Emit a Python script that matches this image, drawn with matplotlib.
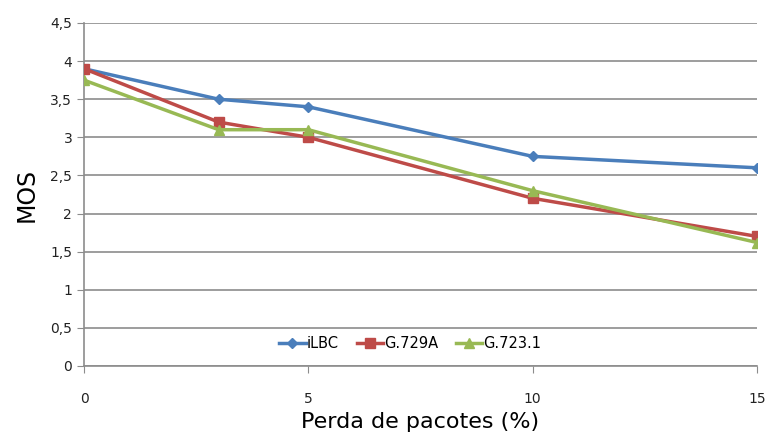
import matplotlib
matplotlib.use("Agg")
import matplotlib.pyplot as plt

x_vals = [0, 3, 5, 10, 15]
ilbc = [3.9, 3.5, 3.4, 2.75, 2.6]
g729a = [3.9, 3.2, 3.0, 2.2, 1.7]
g7231 = [3.75, 3.1, 3.1, 2.3, 1.62]
series_names = ["iLBC", "G.729A", "G.723.1"]
y_ticks = [0, 0.5, 1, 1.5, 2, 2.5, 3, 3.5, 4, 4.5]
y_labels = ["0", "0,5", "1", "1,5", "2", "2,5", "3", "3,5", "4", "4,5"]
x_ticks = [0, 5, 10, 15]

fig = plt.figure(figsize=(7.66, 4.38), dpi=100)
ax = fig.add_axes([0.1097, 0.1644, 0.8786, 0.7831])

colors = ["#4A7EBB", "#BE4B48", "#98B954"]
markers = ["D", "s", "^"]
msizes = [5, 7, 7]
for vals, name, c, m, ms in zip([ilbc, g729a, g7231], series_names, colors, markers, msizes):
    ax.plot(x_vals, vals, color=c, marker=m, markersize=ms, linewidth=2.5, label=name, zorder=3)

ax.set_xlim(0, 15)
ax.set_ylim(0, 4.5)
ax.set_yticks(y_ticks)
ax.set_yticklabels(y_labels)
ax.set_xticks(x_ticks)
ax.grid(axis="y", color="#8C8C8C", linewidth=1.2)
ax.set_axisbelow(True)
for s in ["top", "right"]:
    ax.spines[s].set_visible(False)
for s in ["left", "bottom"]:
    ax.spines[s].set_color("#8C8C8C")
    ax.spines[s].set_linewidth(1.2)
ax.tick_params(axis="y", length=5, color="#8C8C8C", labelsize=10, labelcolor="#222222")
ax.tick_params(axis="x", length=5, color="#8C8C8C", labelsize=10, labelcolor="#222222", pad=14)
ax.set_xlabel("Perda de pacotes (%)", fontsize=16, labelpad=4)
ax.set_ylabel("MOS", fontsize=17, labelpad=8)

leg = ax.legend(loc="lower center", bbox_to_anchor=(0.485, 0.005), ncol=3, frameon=False,
                fontsize=10.5, handlelength=1.8, handletextpad=0.1, columnspacing=1.2)

fig.savefig("out.png", dpi=100)
